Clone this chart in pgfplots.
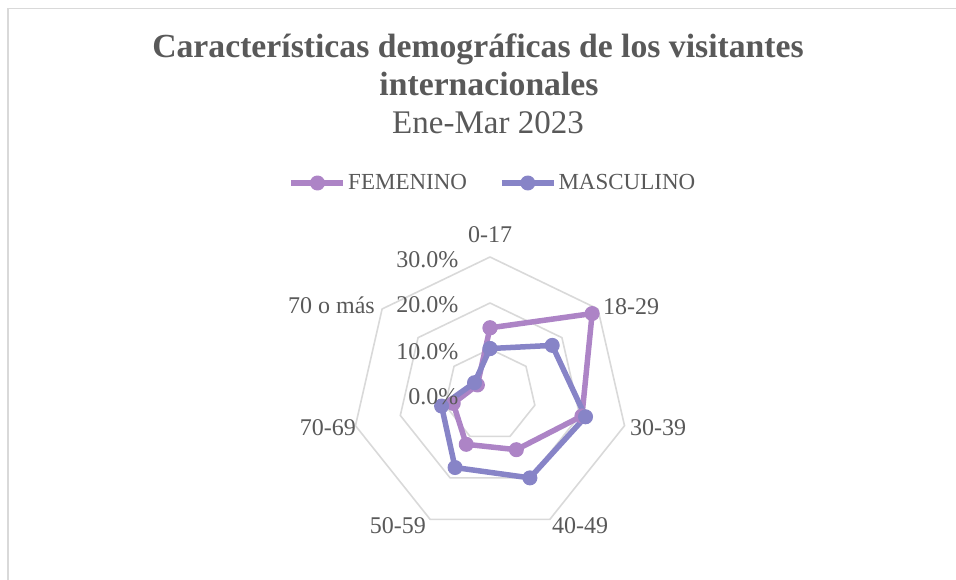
\documentclass[border=0pt]{standalone}
\usepackage{fontspec}
\setmainfont{Liberation Serif}
\usepackage{pgfplots}
\usepackage{pgfplotstable}
\pgfplotsset{compat=1.18}
\usepgfplotslibrary{polar}

\definecolor{fem}{HTML}{AD84C6}
\definecolor{masc}{HTML}{8784C7}
\definecolor{txt}{HTML}{595959}
\definecolor{grd}{HTML}{D9D9D9}

% angle (deg, clockwise from top), share in %
\pgfplotstableread{
ang fem masc
90 14.6 10.1
38.5714 28.4 17.3
-12.8571 20.5 21.3
-64.2857 13.2 20.0
-115.7143 11.9 17.5
-167.1429 8.2 10.8
-218.5714 3.5 4.3
-270 14.6 10.1
}\datos

\newcommand{\lbl}{\fontsize{24}{28}\selectfont}

\begin{document}
\begin{tikzpicture}[x=1pt,y=1pt]
\path[use as bounding box] (0,0) rectangle (956,579);
\draw[grd, line width=1.5pt] (8,-5) -- (8,570.5) -- (970,570.5);

\begin{polaraxis}[
  at={(490pt,184pt)}, anchor=origin,
  width=276pt, height=276pt, scale only axis,
  ymin=0, ymax=30, hide axis, clip=false,
  legend columns=2,
  legend style={at={(0.5,1)}, anchor=center, yshift=74pt, xshift=3pt,
    draw=none, fill=none, text=txt, font=\fontsize{23}{27}\selectfont,
    /tikz/every even column/.append style={column sep=30pt}},
  legend image code/.code={
    \draw[mark repeat=2,mark phase=2,#1] plot coordinates {(0pt,0pt) (26pt,0pt) (52pt,0pt)};},
]
\foreach \r in {10,20,30}{
\addplot[grd, line width=1.6pt, no marks, forget plot] coordinates {
 (90,\r) (38.5714,\r) (-12.8571,\r) (-64.2857,\r) (-115.7143,\r) (-167.1429,\r) (-218.5714,\r) (-270,\r)};
}
\addplot[fem, line width=5.5pt, line join=round, mark=*, mark size=7pt,
  mark options={fill=fem, draw=fem, line width=1pt}] table[x=ang, y=fem] {\datos};
\addlegendentry{FEMENINO}
\addplot[masc, line width=5.5pt, line join=round, mark=*, mark size=7pt,
  mark options={fill=masc, draw=masc, line width=1pt}] table[x=ang, y=masc] {\datos};
\addlegendentry{MASCULINO}
\end{polaraxis}

% titles
\node[anchor=base, text=txt, font=\fontsize{33.7}{40}\selectfont\bfseries] at (478,521) {Características demográficas de los visitantes};
\node[anchor=base, text=txt, font=\fontsize{33.7}{40}\selectfont\bfseries] at (489,483) {internacionales};
\node[anchor=base, text=txt, font=\fontsize{33}{40}\selectfont] at (488,445) {Ene-Mar 2023};

% radial labels
\node[anchor=east, text=txt, font=\lbl] at (462,319) {30.0\%};
\node[anchor=east, text=txt, font=\lbl] at (462,274) {20.0\%};
\node[anchor=east, text=txt, font=\lbl] at (462,227) {10.0\%};
\node[anchor=east, text=txt, font=\lbl] at (462,182) {0.0\%};

% category labels
\node[text=txt, font=\lbl] at (490,344) {0-17};
\node[anchor=west, text=txt, font=\lbl, inner sep=0pt] at (603,272) {18-29};
\node[anchor=west, text=txt, font=\lbl, inner sep=0pt] at (630,151) {30-39};
\node[anchor=west, text=txt, font=\lbl, inner sep=0pt] at (552,53) {40-49};
\node[anchor=east, text=txt, font=\lbl, inner sep=0pt] at (426,53) {50-59};
\node[anchor=east, text=txt, font=\lbl, inner sep=0pt] at (356,151) {70-69};
\node[anchor=east, text=txt, font=\lbl, inner sep=0pt] at (375,274) {70 o más};
\end{tikzpicture}
\end{document}
